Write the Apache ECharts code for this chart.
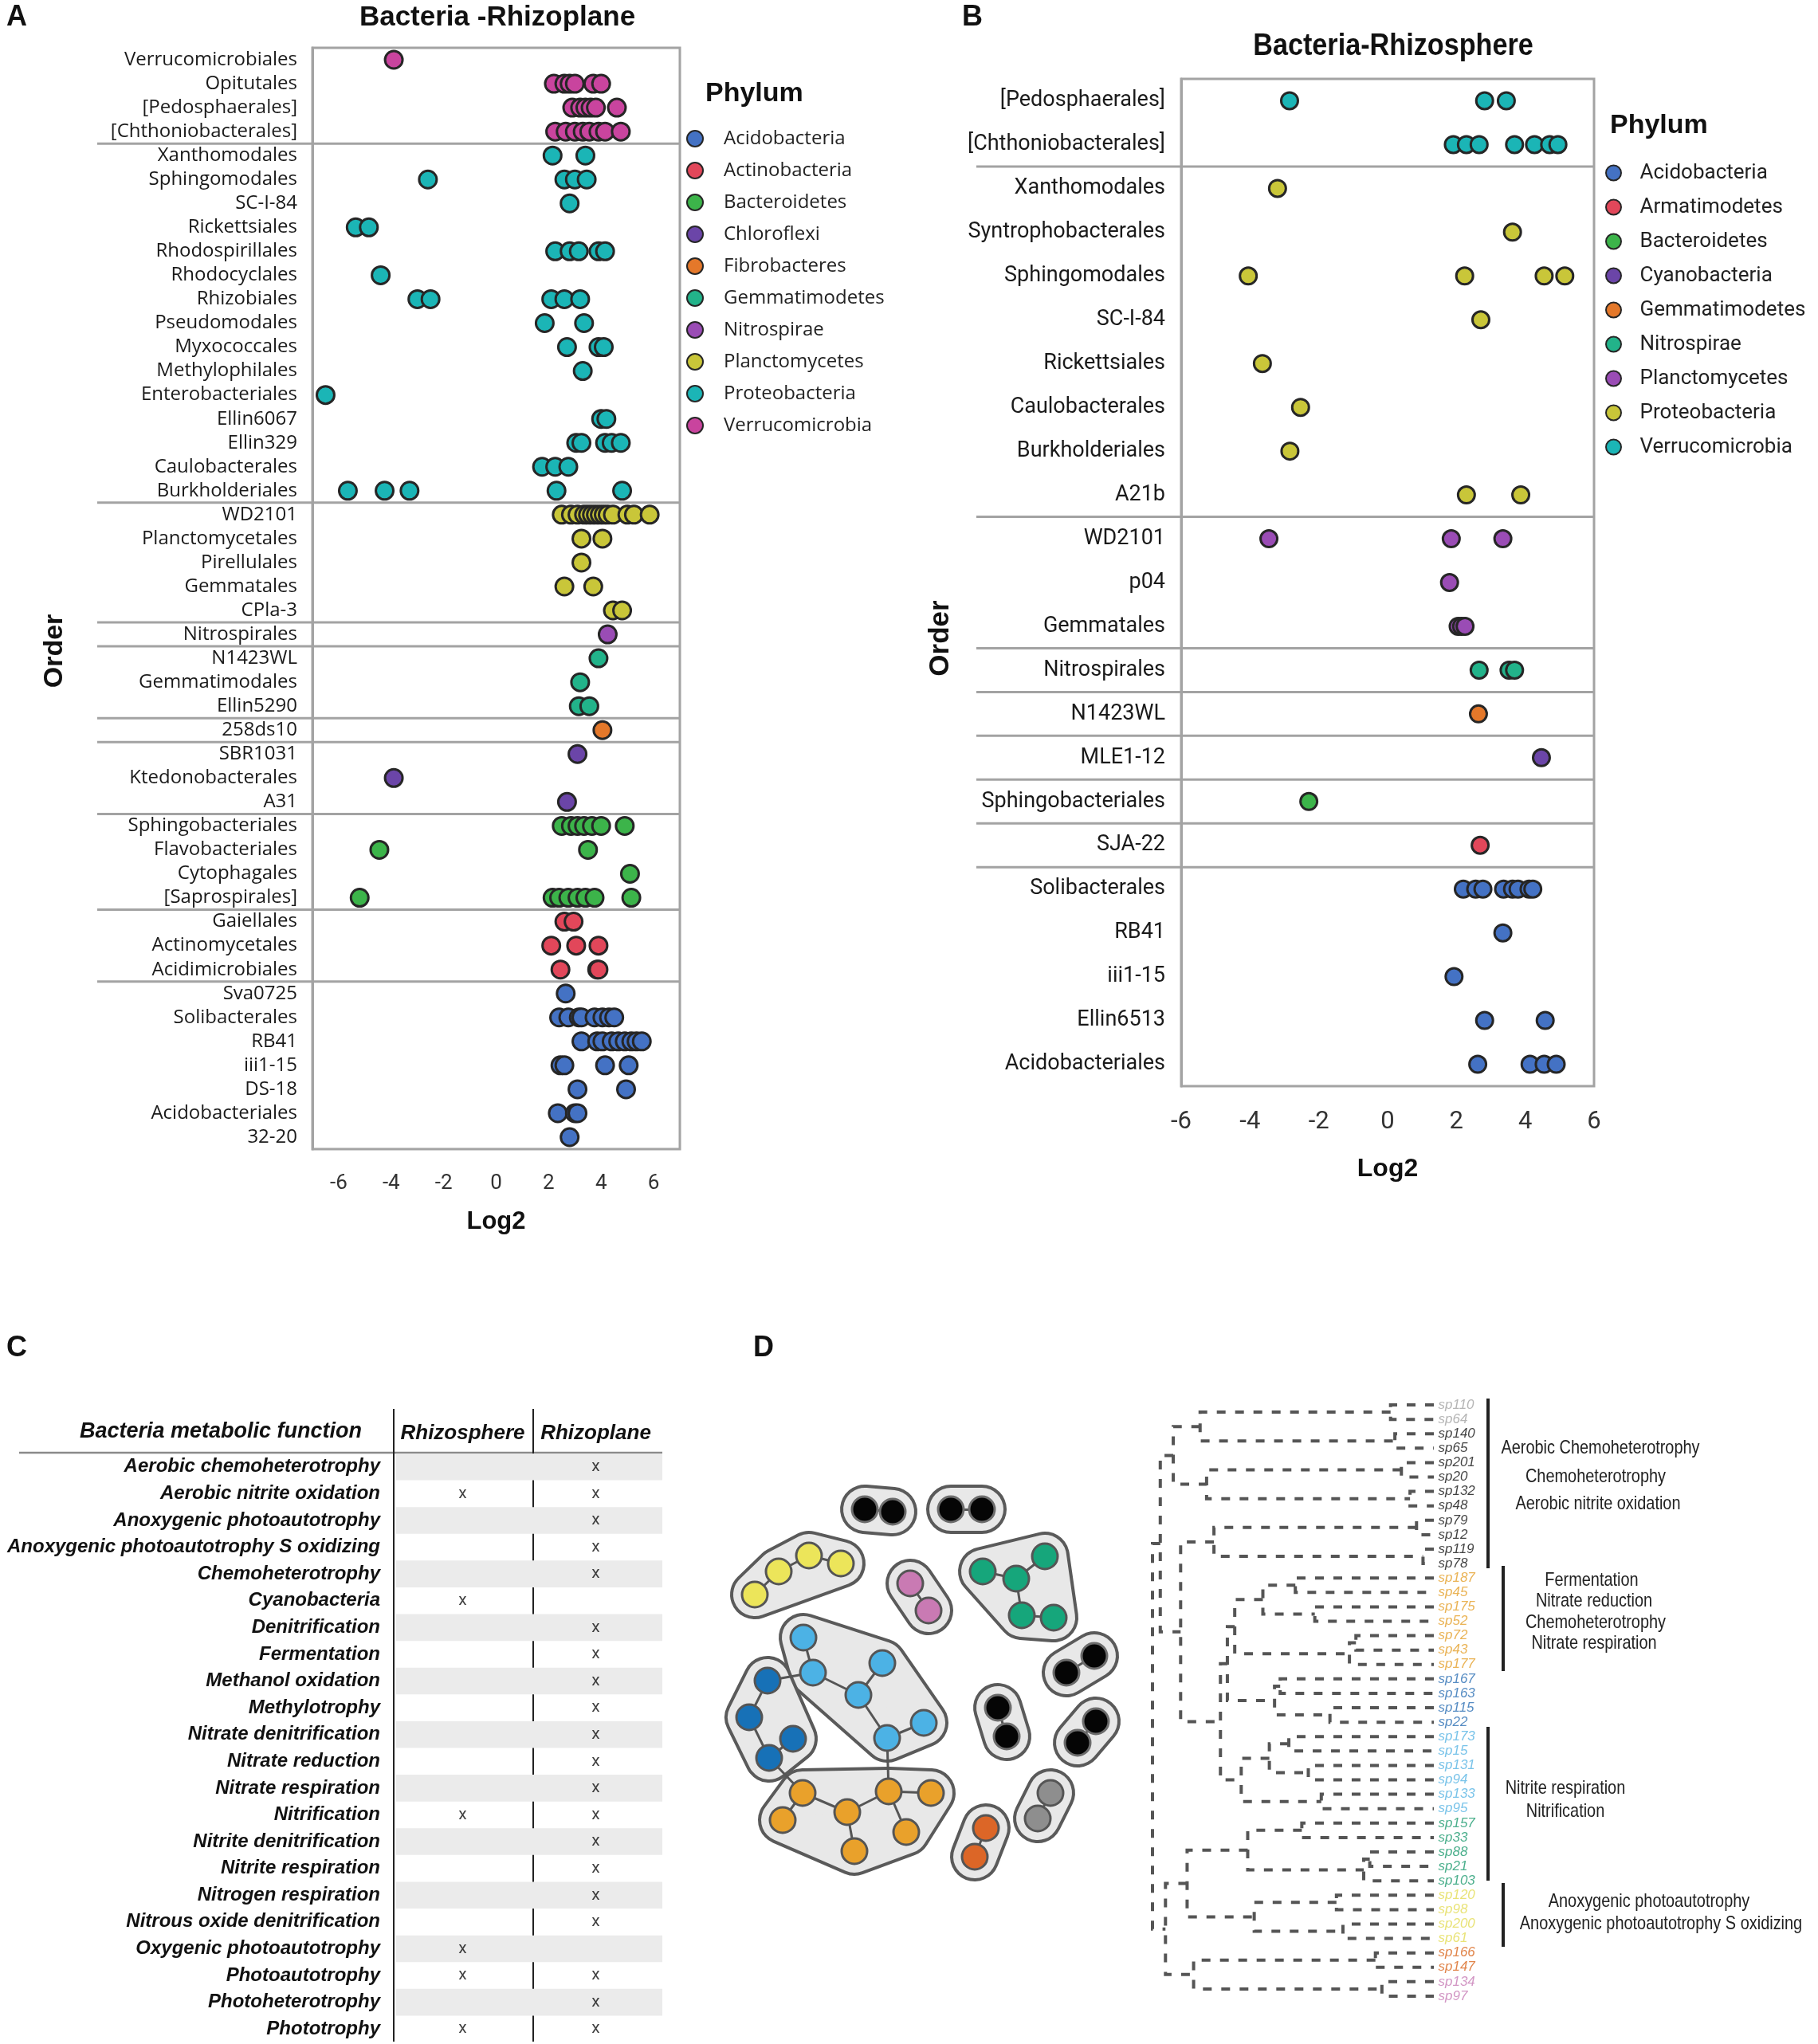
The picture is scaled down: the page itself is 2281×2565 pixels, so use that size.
<!DOCTYPE html>
<html>
<head>
<meta charset="utf-8">
<title>Bacteria Rhizoplane / Rhizosphere</title>
<script src="https://cdn.jsdelivr.net/npm/echarts@6/dist/echarts.min.js"></script>
<style>
html, body { margin: 0; padding: 0; background: #fff; }
#chart { width: 2281px; height: 2565px; }
</style>
</head>
<body>
<div id="chart"></div>
<script>
// ---------------- A : Bacteria -Rhizoplane ----------------
var rzpOrders = ['Verrucomicrobiales', 'Opitutales', '[Pedosphaerales]', '[Chthoniobacterales]',
    'Xanthomodales', 'Sphingomodales', 'SC-I-84', 'Rickettsiales', 'Rhodospirillales', 'Rhodocyclales',
    'Rhizobiales', 'Pseudomodales', 'Myxococcales', 'Methylophilales', 'Enterobacteriales', 'Ellin6067',
    'Ellin329', 'Caulobacterales', 'Burkholderiales', 'WD2101', 'Planctomycetales', 'Pirellulales',
    'Gemmatales', 'CPla-3', 'Nitrospirales', 'N1423WL', 'Gemmatimodales', 'Ellin5290', '258ds10',
    'SBR1031', 'Ktedonobacterales', 'A31', 'Sphingobacteriales', 'Flavobacteriales', 'Cytophagales',
    '[Saprospirales]', 'Gaiellales', 'Actinomycetales', 'Acidimicrobiales', 'Sva0725', 'Solibacterales',
    'RB41', 'iii1-15', 'DS-18', 'Acidobacteriales', '32-20'];
// phylum of each order, as runs [phylum, number of orders]
var rzpPhylumRuns = [['Verrucomicrobia', 4], ['Proteobacteria', 15], ['Planctomycetes', 5], ['Nitrospirae', 1],
    ['Gemmatimodetes', 3], ['Fibrobacteres', 1], ['Chloroflexi', 3], ['Bacteroidetes', 4],
    ['Actinobacteria', 3], ['Acidobacteria', 7]];
var rzpLog2 = [
    [-3.9],
    [2.2, 2.6, 2.8, 3.0, 3.7, 4.0],
    [2.9, 3.2, 3.4, 3.6, 3.8, 4.6],
    [2.25, 2.65, 3.0, 3.3, 3.55, 3.9, 4.15, 4.75],
    [2.15, 3.4],
    [-2.6, 2.6, 3.0, 3.45],
    [2.8],
    [-5.35, -4.85],
    [2.25, 2.8, 3.15, 3.9, 4.15],
    [-4.4],
    [-3.0, -2.5, 2.1, 2.6, 3.2],
    [1.85, 3.35],
    [2.7, 3.9, 4.1],
    [3.3],
    [-6.5],
    [4.0, 4.2],
    [3.05, 3.25, 4.15, 4.4, 4.75],
    [1.75, 2.25, 2.75],
    [-5.65, -4.25, -3.3, 2.3, 4.8],
    [2.5, 2.85, 3.1, 3.35, 3.5, 3.65, 3.8, 3.95, 4.1, 4.25, 4.45, 5.0, 5.25, 5.85],
    [3.25, 4.05],
    [3.25],
    [2.6, 3.7],
    [4.45, 4.8],
    [4.25],
    [3.9],
    [3.2],
    [3.15, 3.55],
    [4.05],
    [3.1],
    [-3.9],
    [2.7],
    [2.5, 2.85, 3.1, 3.35, 3.65, 4.0, 4.9],
    [-4.45, 3.5],
    [5.1],
    [-5.2, 2.15, 2.4, 2.75, 3.1, 3.4, 3.75, 5.15],
    [2.6, 2.95],
    [2.1, 3.05, 3.9],
    [2.45, 3.85, 3.9],
    [2.65],
    [2.4, 2.75, 3.15, 3.25, 3.75, 4.05, 4.3, 4.5],
    [3.25, 3.85, 4.05, 4.4, 4.65, 4.9, 5.15, 5.35, 5.55],
    [2.45, 2.6, 4.15, 5.05],
    [3.1, 4.95],
    [2.35, 3.0, 3.1],
    [2.8]
];
var rzpPhyla = ['Acidobacteria', 'Actinobacteria', 'Bacteroidetes', 'Chloroflexi', 'Fibrobacteres',
    'Gemmatimodetes', 'Nitrospirae', 'Planctomycetes', 'Proteobacteria', 'Verrucomicrobia'];
var rzpTicks = [-6, -4, -2, 0, 2, 4, 6];

// ---------------- B : Bacteria-Rhizosphere ----------------
var rzsOrders = ['[Pedosphaerales]', '[Chthoniobacterales]', 'Xanthomodales', 'Syntrophobacterales',
    'Sphingomodales', 'SC-I-84', 'Rickettsiales', 'Caulobacterales', 'Burkholderiales', 'A21b',
    'WD2101', 'p04', 'Gemmatales', 'Nitrospirales', 'N1423WL', 'MLE1-12', 'Sphingobacteriales',
    'SJA-22', 'Solibacterales', 'RB41', 'iii1-15', 'Ellin6513', 'Acidobacteriales'];
var rzsPhylumRuns = [['Verrucomicrobia', 2], ['Proteobacteria', 8], ['Planctomycetes', 3], ['Nitrospirae', 1],
    ['Gemmatimodetes', 1], ['Cyanobacteria', 1], ['Bacteroidetes', 1], ['Armatimodetes', 1],
    ['Acidobacteria', 5]];
var rzsLog2 = [
    [-2.85, 2.82, 3.45],
    [1.91, 2.29, 2.66, 3.69, 4.27, 4.71, 4.95],
    [-3.2],
    [3.63],
    [-4.05, 2.24, 4.55, 5.15],
    [2.71],
    [-3.64],
    [-2.53],
    [-2.84],
    [2.29, 3.87],
    [-3.45, 1.85, 3.35],
    [1.8],
    [2.05, 2.15, 2.25],
    [2.66, 3.53, 3.69],
    [2.64],
    [4.47],
    [-2.29],
    [2.69],
    [2.2, 2.56, 2.77, 3.37, 3.63, 3.79, 4.11, 4.22],
    [3.35],
    [1.93],
    [2.82, 4.58],
    [2.62, 4.14, 4.55, 4.9]
];
var rzsPhyla = ['Acidobacteria', 'Armatimodetes', 'Bacteroidetes', 'Cyanobacteria', 'Gemmatimodetes',
    'Nitrospirae', 'Planctomycetes', 'Proteobacteria', 'Verrucomicrobia'];
var rzsTicks = [-6, -4, -2, 0, 2, 4, 6];

// ---------------- C : metabolic functions ----------------
var functions = ['Aerobic chemoheterotrophy', 'Aerobic nitrite oxidation', 'Anoxygenic photoautotrophy',
    'Anoxygenic photoautotrophy S oxidizing', 'Chemoheterotrophy', 'Cyanobacteria', 'Denitrification',
    'Fermentation', 'Methanol oxidation', 'Methylotrophy', 'Nitrate denitrification', 'Nitrate reduction',
    'Nitrate respiration', 'Nitrification', 'Nitrite denitrification', 'Nitrite respiration',
    'Nitrogen respiration', 'Nitrous oxide denitrification', 'Oxygenic photoautotrophy', 'Photoautotrophy',
    'Photoheterotrophy', 'Phototrophy'];
var habitats = ['Rhizosphere', 'Rhizoplane'];
var inRhizosphere = [0, 1, 0, 0, 0, 1, 0, 0, 0, 0, 0, 0, 0, 1, 0, 0, 0, 0, 1, 1, 0, 1];
var inRhizoplane = [1, 1, 1, 1, 1, 0, 1, 1, 1, 1, 1, 1, 1, 1, 1, 1, 1, 1, 0, 1, 1, 1];

// ---------------- D : network + dendrogram ----------------
// [node, module, layout x, layout y]
var netNodes = [
    ['k1a', 'black', 185, 44], ['k1b', 'black', 220, 47], ['k2a', 'black', 293, 44], ['k2b', 'black', 332, 44],
    ['y1', 'yellow', 47, 151], ['y2', 'yellow', 77, 122], ['y3', 'yellow', 115, 102], ['y4', 'yellow', 155, 112],
    ['p1', 'pink', 242, 137], ['p2', 'pink', 265, 171],
    ['g1', 'green', 333, 122], ['g2', 'green', 375, 131], ['g3', 'green', 411, 103], ['g4', 'green', 382, 177], ['g5', 'green', 422, 180],
    ['k3a', 'black', 438, 249], ['k3b', 'black', 473, 228],
    ['k4a', 'black', 352, 293], ['k4b', 'black', 363, 329],
    ['k5a', 'black', 452, 337], ['k5b', 'black', 475, 310],
    ['gr1', 'grey', 418, 400], ['gr2', 'grey', 402, 432],
    ['r1', 'red', 337, 444], ['r2', 'red', 323, 480],
    ['lb1', 'lightblue', 108, 205], ['lb2', 'lightblue', 120, 249], ['lb3', 'lightblue', 177, 277],
    ['lb4', 'lightblue', 207, 237], ['lb5', 'lightblue', 213, 331], ['lb6', 'lightblue', 259, 312],
    ['b1', 'blue', 63, 259], ['b2', 'blue', 40, 305], ['b3', 'blue', 65, 356], ['b4', 'blue', 95, 332],
    ['o1', 'orange', 107, 400], ['o2', 'orange', 82, 434], ['o3', 'orange', 163, 424], ['o4', 'orange', 172, 473],
    ['o5', 'orange', 215, 398], ['o6', 'orange', 268, 400], ['o7', 'orange', 237, 449]
];
var netLinks = [['k1a', 'k1b'], ['k2a', 'k2b'], ['y1', 'y2'], ['y2', 'y3'], ['y3', 'y4'], ['p1', 'p2'],
    ['g1', 'g2'], ['g2', 'g3'], ['g2', 'g4'], ['g4', 'g5'], ['k3a', 'k3b'], ['k4a', 'k4b'], ['k5a', 'k5b'],
    ['gr1', 'gr2'], ['r1', 'r2'], ['lb1', 'lb2'], ['lb2', 'lb3'], ['lb3', 'lb4'], ['lb3', 'lb5'], ['lb5', 'lb6'],
    ['b1', 'b2'], ['b2', 'b3'], ['b3', 'b4'], ['b1', 'lb2'], ['b3', 'o1'], ['lb5', 'o5'],
    ['o1', 'o2'], ['o1', 'o3'], ['o3', 'o4'], ['o3', 'o5'], ['o5', 'o6'], ['o5', 'o7']];

var dendroLeaves = ['sp110', 'sp64', 'sp140', 'sp65', 'sp201', 'sp20', 'sp132', 'sp48', 'sp79', 'sp12',
    'sp119', 'sp78', 'sp187', 'sp45', 'sp175', 'sp52', 'sp72', 'sp43', 'sp177', 'sp167', 'sp163', 'sp115',
    'sp22', 'sp173', 'sp15', 'sp131', 'sp94', 'sp133', 'sp95', 'sp157', 'sp33', 'sp88', 'sp21', 'sp103',
    'sp120', 'sp98', 'sp200', 'sp61', 'sp166', 'sp147', 'sp134', 'sp97'];
var dendroLeafModule = ['grey', 'grey', 'black', 'black', 'black', 'black', 'black', 'black', 'black', 'black',
    'black', 'black', 'orange', 'orange', 'orange', 'orange', 'orange', 'orange', 'orange', 'blue', 'blue',
    'blue', 'blue', 'lightblue', 'lightblue', 'lightblue', 'lightblue', 'lightblue', 'lightblue', 'green',
    'green', 'green', 'green', 'green', 'yellow', 'yellow', 'yellow', 'yellow', 'red', 'red', 'pink', 'pink'];
// [node, left child, right child, merge height]
var dendroMerges = [
    ['A1', 'sp110', 'sp64', 100], ['A2', 'sp140', 'sp65', 90], ['A3', 'A1', 'A2', 540],
    ['B1', 'sp201', 'sp20', 75], ['B2', 'sp132', 'sp48', 55], ['B3', 'B1', 'B2', 525],
    ['C1', 'A3', 'B3', 602],
    ['D1', 'sp79', 'sp12', 40], ['D2', 'sp119', 'sp78', 25], ['D3', 'D1', 'D2', 508],
    ['O1', 'sp187', 'sp45', 320], ['O2', 'sp175', 'sp52', 275], ['O3', 'O1', 'O2', 395],
    ['O4', 'sp72', 'sp43', 180], ['O5', 'O4', 'sp177', 195], ['O6', 'O3', 'O5', 460],
    ['L1', 'sp167', 'sp163', 355], ['L2', 'sp115', 'sp22', 240], ['L3', 'L1', 'L2', 368],
    ['OB', 'O6', 'L3', 477],
    ['S1', 'sp173', 'sp15', 335], ['S2', 'sp131', 'sp94', 290], ['S3', 'S1', 'S2', 380],
    ['S4', 'sp133', 'sp95', 260], ['S5', 'S3', 'S4', 445],
    ['P', 'OB', 'S5', 493], ['F', 'D3', 'P', 585], ['E', 'C1', 'F', 632],
    ['G1', 'sp157', 'sp33', 305], ['G2', 'sp88', 'sp21', 148], ['G3', 'G2', 'sp103', 162], ['G4', 'G1', 'G3', 430],
    ['Y1', 'sp120', 'sp98', 225], ['Y2', 'sp200', 'sp61', 210], ['Y3', 'Y1', 'Y2', 415],
    ['GY', 'G4', 'Y3', 570],
    ['R1', 'sp166', 'sp147', 135], ['K1', 'sp134', 'sp97', 120], ['RK', 'R1', 'K1', 555],
    ['Q', 'GY', 'RK', 620], ['R', 'E', 'Q', 650]
];
var dendroGroupText = [
    ['Aerobic Chemoheterotrophy', 'Chemoheterotrophy', 'Aerobic nitrite oxidation'],
    ['Fermentation', 'Nitrate reduction', 'Chemoheterotrophy', 'Nitrate respiration'],
    ['Nitrite respiration', 'Nitrification'],
    ['Anoxygenic photoautotrophy', 'Anoxygenic photoautotrophy S oxidizing']
];

// ---------------- styles ----------------
var colorA = {
    Acidobacteria: '#4472c4', Actinobacteria: '#e2475a', Bacteroidetes: '#3cb44a', Chloroflexi: '#6b45a8',
    Fibrobacteres: '#e4782a', Gemmatimodetes: '#22b38a', Nitrospirae: '#9a4cb5', Planctomycetes: '#c9c639',
    Proteobacteria: '#1bb5b6', Verrucomicrobia: '#c9449e'
};
var colorB = {
    Acidobacteria: '#4472c4', Armatimodetes: '#e2475a', Bacteroidetes: '#3cb44a', Cyanobacteria: '#6b45a8',
    Gemmatimodetes: '#e4782a', Nitrospirae: '#22b38a', Planctomycetes: '#9a4cb5', Proteobacteria: '#c9c639',
    Verrucomicrobia: '#1bb5b6'
};
var moduleNodeColor = {
    black: '#050505', grey: '#8e8e8e', yellow: '#ece55a', pink: '#c97ab3', green: '#16a67b',
    lightblue: '#4cb2e5', blue: '#1771b7', orange: '#e9a12b', red: '#dc6627'
};
var moduleLeafColor = {
    black: '#111111', grey: '#a3a3a3', yellow: '#e3dc55', pink: '#c77cb5', green: '#1e9b6f',
    lightblue: '#58b4e4', blue: '#2c6fb4', orange: '#e5a02c', red: '#d9661e'
};
var FRAME = '#a3a3a3';
var NARROW = 'Roboto';

// grid layout (px)
var gA = { left: 392, top: 60, width: 461, height: 1382 };
var gB = { left: 1482, top: 99, width: 518, height: 1264 };
var gC = { left: 497, top: 1824, width: 334, height: 739 };
var gN = { left: 900, top: 1850, width: 500, height: 500 };
var gD = { left: 1446, top: 1754, width: 353, height: 760 };

function expandRuns(runs) {
    var out = [];
    runs.forEach(function (r) { for (var i = 0; i < r[1]; i++) out.push(r[0]); });
    return out;
}
var rzpPhylum = expandRuns(rzpPhylumRuns);
var rzsPhylum = expandRuns(rzsPhylumRuns);

function dotSeries(phyla, orders, phylum, vals, colors, xIdx, yIdx, suffix, size) {
    return phyla.map(function (p) {
        var data = [];
        orders.forEach(function (o, i) {
            if (phylum[i] === p) vals[i].forEach(function (v) { data.push([v, o]); });
        });
        return {
            name: p + suffix, type: 'scatter', xAxisIndex: xIdx, yAxisIndex: yIdx,
            data: data, symbolSize: size, z: 3,
            itemStyle: { color: colors[p], borderColor: '#262626', borderWidth: 3, opacity: 1 }
        };
    });
}

function breaks(phylum) {
    var b = [];
    for (var i = 1; i < phylum.length; i++) if (phylum[i] !== phylum[i - 1]) b.push(i);
    return b;
}

// dendrogram segments
var nodeY = {}, nodeH = {};
dendroLeaves.forEach(function (n, i) { nodeY[n] = i; nodeH[n] = 0; });
var dendroSegs = dendroMerges.map(function (m) {
    var a = m[1], b = m[2], h = m[3];
    nodeY[m[0]] = (nodeY[a] + nodeY[b]) / 2;
    nodeH[m[0]] = h;
    return { coords: [[nodeH[a], nodeY[a]], [h, nodeY[a]], [h, nodeY[b]], [nodeH[b], nodeY[b]]] };
});

// network modules -> hulls (connected parts of one module)
var nodeByName = {};
netNodes.forEach(function (n) { nodeByName[n[0]] = n; });
var parent = {};
netNodes.forEach(function (n) { parent[n[0]] = n[0]; });
function find(a) { while (parent[a] !== a) a = parent[a]; return a; }
netLinks.forEach(function (l) {
    if (nodeByName[l[0]][1] === nodeByName[l[1]][1]) parent[find(l[0])] = find(l[1]);
});
var hullMap = {}, hulls = [];
netNodes.forEach(function (n) {
    var r = find(n[0]);
    if (!hullMap[r]) { hullMap[r] = []; hulls.push(hullMap[r]); }
    hullMap[r].push(n[0]);
});

function convexHull(pts) {
    if (pts.length < 3) return pts.slice();
    var p = pts.slice().sort(function (a, b) { return a[0] - b[0] || a[1] - b[1]; });
    function cross(o, a, b) { return (a[0] - o[0]) * (b[1] - o[1]) - (a[1] - o[1]) * (b[0] - o[0]); }
    var lower = [], upper = [];
    p.forEach(function (q) {
        while (lower.length >= 2 && cross(lower[lower.length - 2], lower[lower.length - 1], q) <= 0) lower.pop();
        lower.push(q);
    });
    for (var i = p.length - 1; i >= 0; i--) {
        var q = p[i];
        while (upper.length >= 2 && cross(upper[upper.length - 2], upper[upper.length - 1], q) <= 0) upper.pop();
        upper.push(q);
    }
    upper.pop(); lower.pop();
    return lower.concat(upper);
}

var chart = echarts.init(document.getElementById('chart'), null, { renderer: 'canvas', width: 2281, height: 2565 });

var series = [];
series = series.concat(dotSeries(rzpPhyla, rzpOrders, rzpPhylum, rzpLog2, colorA, 1, 0, '', 22));
series = series.concat(dotSeries(rzsPhyla, rzsOrders, rzsPhylum, rzsLog2, colorB, 3, 1, ' (B)', 21));

// table marks
function markData(flags, col) {
    var d = [];
    flags.forEach(function (f, i) { if (f) d.push([col, functions[i]]); });
    return d;
}
[[inRhizosphere, habitats[0]], [inRhizoplane, habitats[1]]].forEach(function (m) {
    series.push({
        type: 'scatter', xAxisIndex: 4, yAxisIndex: 2, data: markData(m[0], m[1]),
        symbolSize: 1, itemStyle: { color: 'rgba(0,0,0,0)' }, silent: true,
        label: { show: true, position: 'inside', formatter: 'x', color: '#111',
            fontFamily: NARROW, fontSize: 21 }
    });
});

// network hulls
series.push({
    type: 'custom', xAxisIndex: 5, yAxisIndex: 3, silent: true, z: 1,
    data: hulls.map(function (h) { var n = nodeByName[h[0]]; return [n[2], n[3]]; }),
    renderItem: function (params, api) {
        var pts = hulls[params.dataIndex].map(function (name) {
            var n = nodeByName[name];
            return api.coord([n[2], n[3]]);
        });
        var hp = convexHull(pts);
        return {
            type: 'group', children: [
                { type: 'polygon', shape: { points: hp },
                  style: { fill: '#5a5a5a', stroke: '#5a5a5a', lineWidth: 62, lineJoin: 'round', lineCap: 'round' } },
                { type: 'polygon', shape: { points: hp },
                  style: { fill: '#e8e8e8', stroke: '#e8e8e8', lineWidth: 54, lineJoin: 'round', lineCap: 'round' } }
            ]
        };
    }
});

// network graph
series.push({
    type: 'graph', coordinateSystem: 'cartesian2d', xAxisIndex: 5, yAxisIndex: 3, z: 4, silent: true,
    symbolSize: 32,
    data: netNodes.map(function (n) {
        return { name: n[0], value: [n[2], n[3]],
            itemStyle: { color: moduleNodeColor[n[1]], borderColor: n[1] === 'black' ? '#6c6c6c' : '#555', borderWidth: 3 } };
    }),
    links: netLinks.map(function (l) { return { source: l[0], target: l[1] }; }),
    lineStyle: { color: '#555', width: 3, opacity: 1, curveness: 0 },
    label: { show: false }
});

// dendrogram
series.push({
    type: 'lines', coordinateSystem: 'cartesian2d', xAxisIndex: 6, yAxisIndex: 4, polyline: true, silent: true,
    data: dendroSegs, lineStyle: { color: '#555', width: 4, type: [11, 12], opacity: 1 }
});
series.push({
    type: 'scatter', xAxisIndex: 6, yAxisIndex: 4, silent: true, symbolSize: 1,
    itemStyle: { color: 'rgba(0,0,0,0)' },
    data: dendroLeaves.map(function (n, i) {
        return { name: n, value: [0, i], label: { color: moduleLeafColor[dendroLeafModule[i]] } };
    }),
    label: { show: true, position: 'right', distance: 5, formatter: '{b}',
        fontFamily: 'Liberation Sans', fontStyle: 'italic', fontSize: 17 }
});

// ---------------- graphic texts and rules ----------------
var graphics = [];
function txt(t, x, y, font, align, rot, fill, sx) {
    graphics.push({ type: 'text', x: x, y: y, rotation: rot || 0, scaleX: sx || 1, silent: true,
        style: { text: t, font: font, fill: fill || '#111', align: align || 'center', verticalAlign: 'middle' } });
}
function line(x1, y1, x2, y2, color, w) {
    graphics.push({ type: 'line', silent: true, shape: { x1: x1, y1: y1, x2: x2, y2: y2 },
        style: { stroke: color, lineWidth: w } });
}
txt('A', 8, 22, 'bold 36px "Liberation Sans"', 'left');
txt('B', 1207, 22, 'bold 36px "Liberation Sans"', 'left');
txt('C', 8, 1692, 'bold 36px "Liberation Sans"', 'left');
txt('D', 945, 1692, 'bold 36px "Liberation Sans"', 'left');
txt('Bacteria -Rhizoplane', 624, 22, 'bold 35px "Liberation Sans"');
txt('Bacteria-Rhizosphere', 1748, 59, 'bold 38px "Liberation Sans"', 'center', 0, '#111', 0.9);
txt('Order', 69, 817, 'bold 34px "Liberation Sans"', 'center', Math.PI / 2);
txt('Order', 1180, 801, 'bold 35px "Liberation Sans"', 'center', Math.PI / 2);
txt('Phylum', 885, 118, 'bold 34px "Liberation Sans"', 'left');
txt('Phylum', 2020, 158, 'bold 34px "Liberation Sans"', 'left');

breaks(rzpPhylum).forEach(function (k) {
    var y = gA.top + k * gA.height / rzpOrders.length;
    line(122, y, gA.left + gA.width, y, FRAME, 3);
});
breaks(rzsPhylum).forEach(function (k) {
    var y = gB.top + k * gB.height / rzsOrders.length;
    line(1225, y, gB.left + gB.width, y, FRAME, 3);
});

// table rules
txt('Bacteria metabolic function', 277, 1797, 'italic bold 27px "Liberation Sans"');
line(24, 1823, gC.left + gC.width, 1823, '#8a8a8a', 2.5);
line(494, 1768, 494, 2562, '#222', 2);
line(669, 1768, 669, 2562, '#222', 2);

// dendrogram module bars and notes
line(1867, 1755, 1867, 1968, '#222', 4);
line(1886, 1965, 1886, 2097, '#222', 4);
line(1867, 2167, 1867, 2360, '#222', 4);
line(1886, 2363, 1886, 2443, '#222', 4);
var noteFont = '24px "Liberation Sans"';
var notePos = [
    [[2008, 1817], [2002, 1853], [2005, 1887]],
    [[1997, 1983], [2000, 2009], [2002, 2036], [2000, 2062]],
    [[1964, 2244], [1964, 2273]],
    [[2069, 2386], [2084, 2414]]
];
dendroGroupText.forEach(function (g, gi) {
    g.forEach(function (t, ti) { txt(t, notePos[gi][ti][0], notePos[gi][ti][1], noteFont, 'center', 0, '#222', 0.83); });
});

function hidden(gi, extra) {
    return Object.assign({ gridIndex: gi, show: false, type: 'value' }, extra);
}

var option = {
    animation: false,
    backgroundColor: '#fff',
    grid: [
        Object.assign({ show: true, borderColor: FRAME, borderWidth: 3, containLabel: false }, gA),
        Object.assign({ show: true, borderColor: FRAME, borderWidth: 3, containLabel: false }, gB),
        Object.assign({ containLabel: false }, gC),
        Object.assign({ containLabel: false }, gN),
        Object.assign({ containLabel: false }, gD)
    ],
    xAxis: [
        { gridIndex: 0, type: 'value', position: 'bottom', min: -7, max: 7, interval: 1,
          axisLine: { onZero: false, lineStyle: { color: FRAME, width: 3 } },
          axisTick: { length: 8, lineStyle: { color: FRAME, width: 3 } },
          axisLabel: { show: false }, splitLine: { show: false } },
        { gridIndex: 0, type: 'value', position: 'bottom', min: -7, max: 7, interval: 1,
          axisLine: { show: false, onZero: false },
          axisTick: { length: 15, customValues: rzpTicks, lineStyle: { color: FRAME, width: 3 } },
          axisLabel: { customValues: rzpTicks, margin: 30, color: '#333', fontFamily: NARROW, fontSize: 26 },
          splitLine: { show: false },
          name: 'Log2', nameLocation: 'middle', nameGap: 76,
          nameTextStyle: { fontFamily: 'Liberation Sans', fontWeight: 'bold', fontSize: 31, color: '#111' } },
        { gridIndex: 1, type: 'value', position: 'bottom', min: -6, max: 6, interval: 1,
          axisLine: { onZero: false, lineStyle: { color: FRAME, width: 3 } },
          axisTick: { length: 8, lineStyle: { color: FRAME, width: 3 } },
          axisLabel: { show: false }, splitLine: { show: false } },
        { gridIndex: 1, type: 'value', position: 'bottom', min: -6, max: 6, interval: 2,
          axisLine: { show: false, onZero: false },
          axisTick: { length: 15, lineStyle: { color: FRAME, width: 3 } },
          axisLabel: { customValues: rzsTicks, margin: 30, color: '#333', fontFamily: NARROW, fontSize: 31 },
          splitLine: { show: false },
          name: 'Log2', nameLocation: 'middle', nameGap: 88,
          nameTextStyle: { fontFamily: 'Liberation Sans', fontWeight: 'bold', fontSize: 32, color: '#111' } },
        { gridIndex: 2, type: 'category', data: habitats, position: 'top',
          axisLine: { show: false }, axisTick: { show: false }, splitLine: { show: false },
          axisLabel: { interval: 0, margin: 12, color: '#111', fontFamily: 'Liberation Sans', fontStyle: 'italic',
              fontWeight: 'bold', fontSize: 26 } },
        hidden(3, { min: 0, max: 500 }),
        hidden(4, { min: 0, max: 650, inverse: true })
    ],
    yAxis: [
        { gridIndex: 0, type: 'category', data: rzpOrders, inverse: true,
          axisLine: { onZero: false, lineStyle: { color: FRAME, width: 3 } }, axisTick: { show: false },
          axisLabel: { interval: 0, margin: 19, color: '#1a1a1a', fontFamily: 'Open Sans', fontSize: 24 },
          splitLine: { show: false } },
        { gridIndex: 1, type: 'category', data: rzsOrders, inverse: true,
          axisLine: { onZero: false, lineStyle: { color: FRAME, width: 3 } }, axisTick: { show: false },
          axisLabel: { interval: 0, margin: 20, color: '#1a1a1a', fontFamily: NARROW, fontSize: 27 },
          splitLine: { show: false } },
        { gridIndex: 2, type: 'category', data: functions, inverse: true,
          axisLine: { show: false }, axisTick: { show: false }, splitLine: { show: false },
          splitArea: { show: true, areaStyle: { color: ['#ebebeb', 'rgba(255,255,255,0)'] } },
          axisLabel: { interval: 0, margin: 20, color: '#111', fontFamily: 'Liberation Sans', fontStyle: 'italic',
              fontWeight: 'bold', fontSize: 24 } },
        hidden(3, { min: 0, max: 500, inverse: true }),
        hidden(4, { min: -0.5, max: 41.5, inverse: true })
    ],
    legend: [
        { data: rzpPhyla, orient: 'vertical', left: 861, top: 162, itemWidth: 62, itemHeight: 20, itemGap: 16,
          selectedMode: false, padding: 0,
          textStyle: { fontFamily: 'Open Sans', fontSize: 24, color: '#222' } },
        { data: rzsPhyla.map(function (p) { return p + ' (B)'; }), orient: 'vertical', left: 2014, top: 204,
          itemWidth: 56, itemHeight: 19, itemGap: 17, selectedMode: false, padding: 0,
          formatter: function (n) { return n.replace(' (B)', ''); },
          textStyle: { fontFamily: NARROW, fontSize: 26, color: '#222' } }
    ],
    graphic: graphics,
    series: series
};
chart.setOption(option);
</script>
</body>
</html>
